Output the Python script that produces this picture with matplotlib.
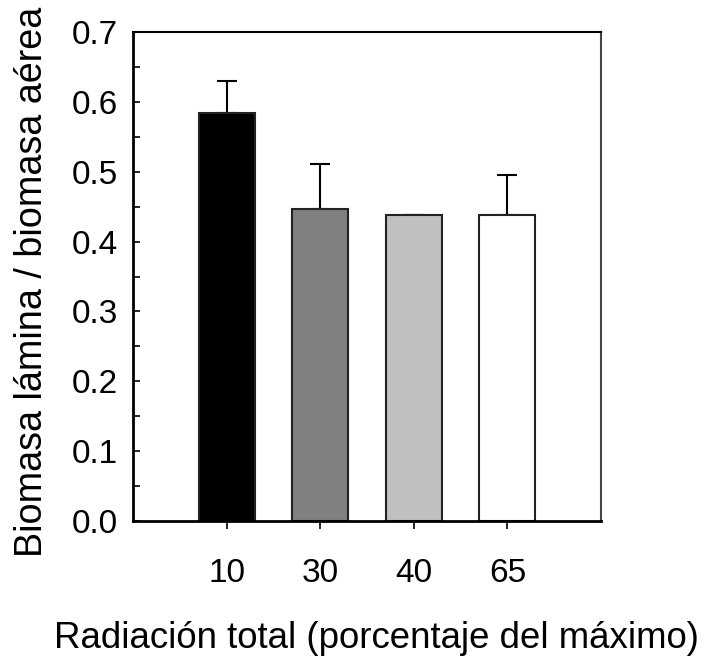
import matplotlib
matplotlib.use("Agg")
import matplotlib.pyplot as plt
from matplotlib.ticker import MultipleLocator

categories = ["10", "30", "40", "65"]
values = [0.584, 0.447, 0.438, 0.438]
errors = [0.046, 0.064, 0.0, 0.057]
colors = ["#000000", "#808080", "#c0c0c0", "#ffffff"]

plt.rcParams['font.family'] = ['Liberation Sans', 'DejaVu Sans']

fig = plt.figure(figsize=(7.11, 6.59), dpi=100)
ax = fig.add_axes([133/711, 1 - 521/659, (601-133)/711, (521-32)/659])

pos = list(range(1, len(categories) + 1))
ax.bar(pos, values, width=0.6, color=colors, edgecolor="#222222", linewidth=1.5, zorder=2)
ax.errorbar(pos, values, yerr=[[0]*len(errors), errors], fmt="none", ecolor="black",
            elinewidth=1.5, capsize=7, capthick=1.5, zorder=1)

ax.set_xlim(0, 5)
ax.set_ylim(0, 0.7)
ax.set_xticks(pos)
ax.set_xticklabels(categories)
ax.yaxis.set_major_locator(MultipleLocator(0.1))
ax.yaxis.set_minor_locator(MultipleLocator(0.05))
ax.yaxis.set_major_formatter(matplotlib.ticker.FormatStrFormatter('%.1f'))

ax.tick_params(axis='y', which='both', direction='in', labelsize=24, width=1.2, pad=11)
ax.tick_params(axis='y', which='major', length=5)
ax.tick_params(axis='y', which='minor', length=5)
ax.tick_params(axis='x', direction='out', labelsize=24, length=6, width=1.2, pad=20.5)

for s in ['left', 'bottom']:
    ax.spines[s].set_linewidth(2)
ax.spines['top'].set_linewidth(1.5)
ax.spines['right'].set_linewidth(1.5)
ax.spines['right'].set_color('#444444')

ax.set_xlabel("Radiación total (porcentaje del máximo)", fontsize=26.4)
ax.set_ylabel("Biomasa lámina / biomasa aérea", fontsize=27.2)
ax.xaxis.set_label_coords(0.520, -0.204)
ax.yaxis.set_label_coords(-0.177, 0.489)

fig.savefig("out.png", dpi=100)
